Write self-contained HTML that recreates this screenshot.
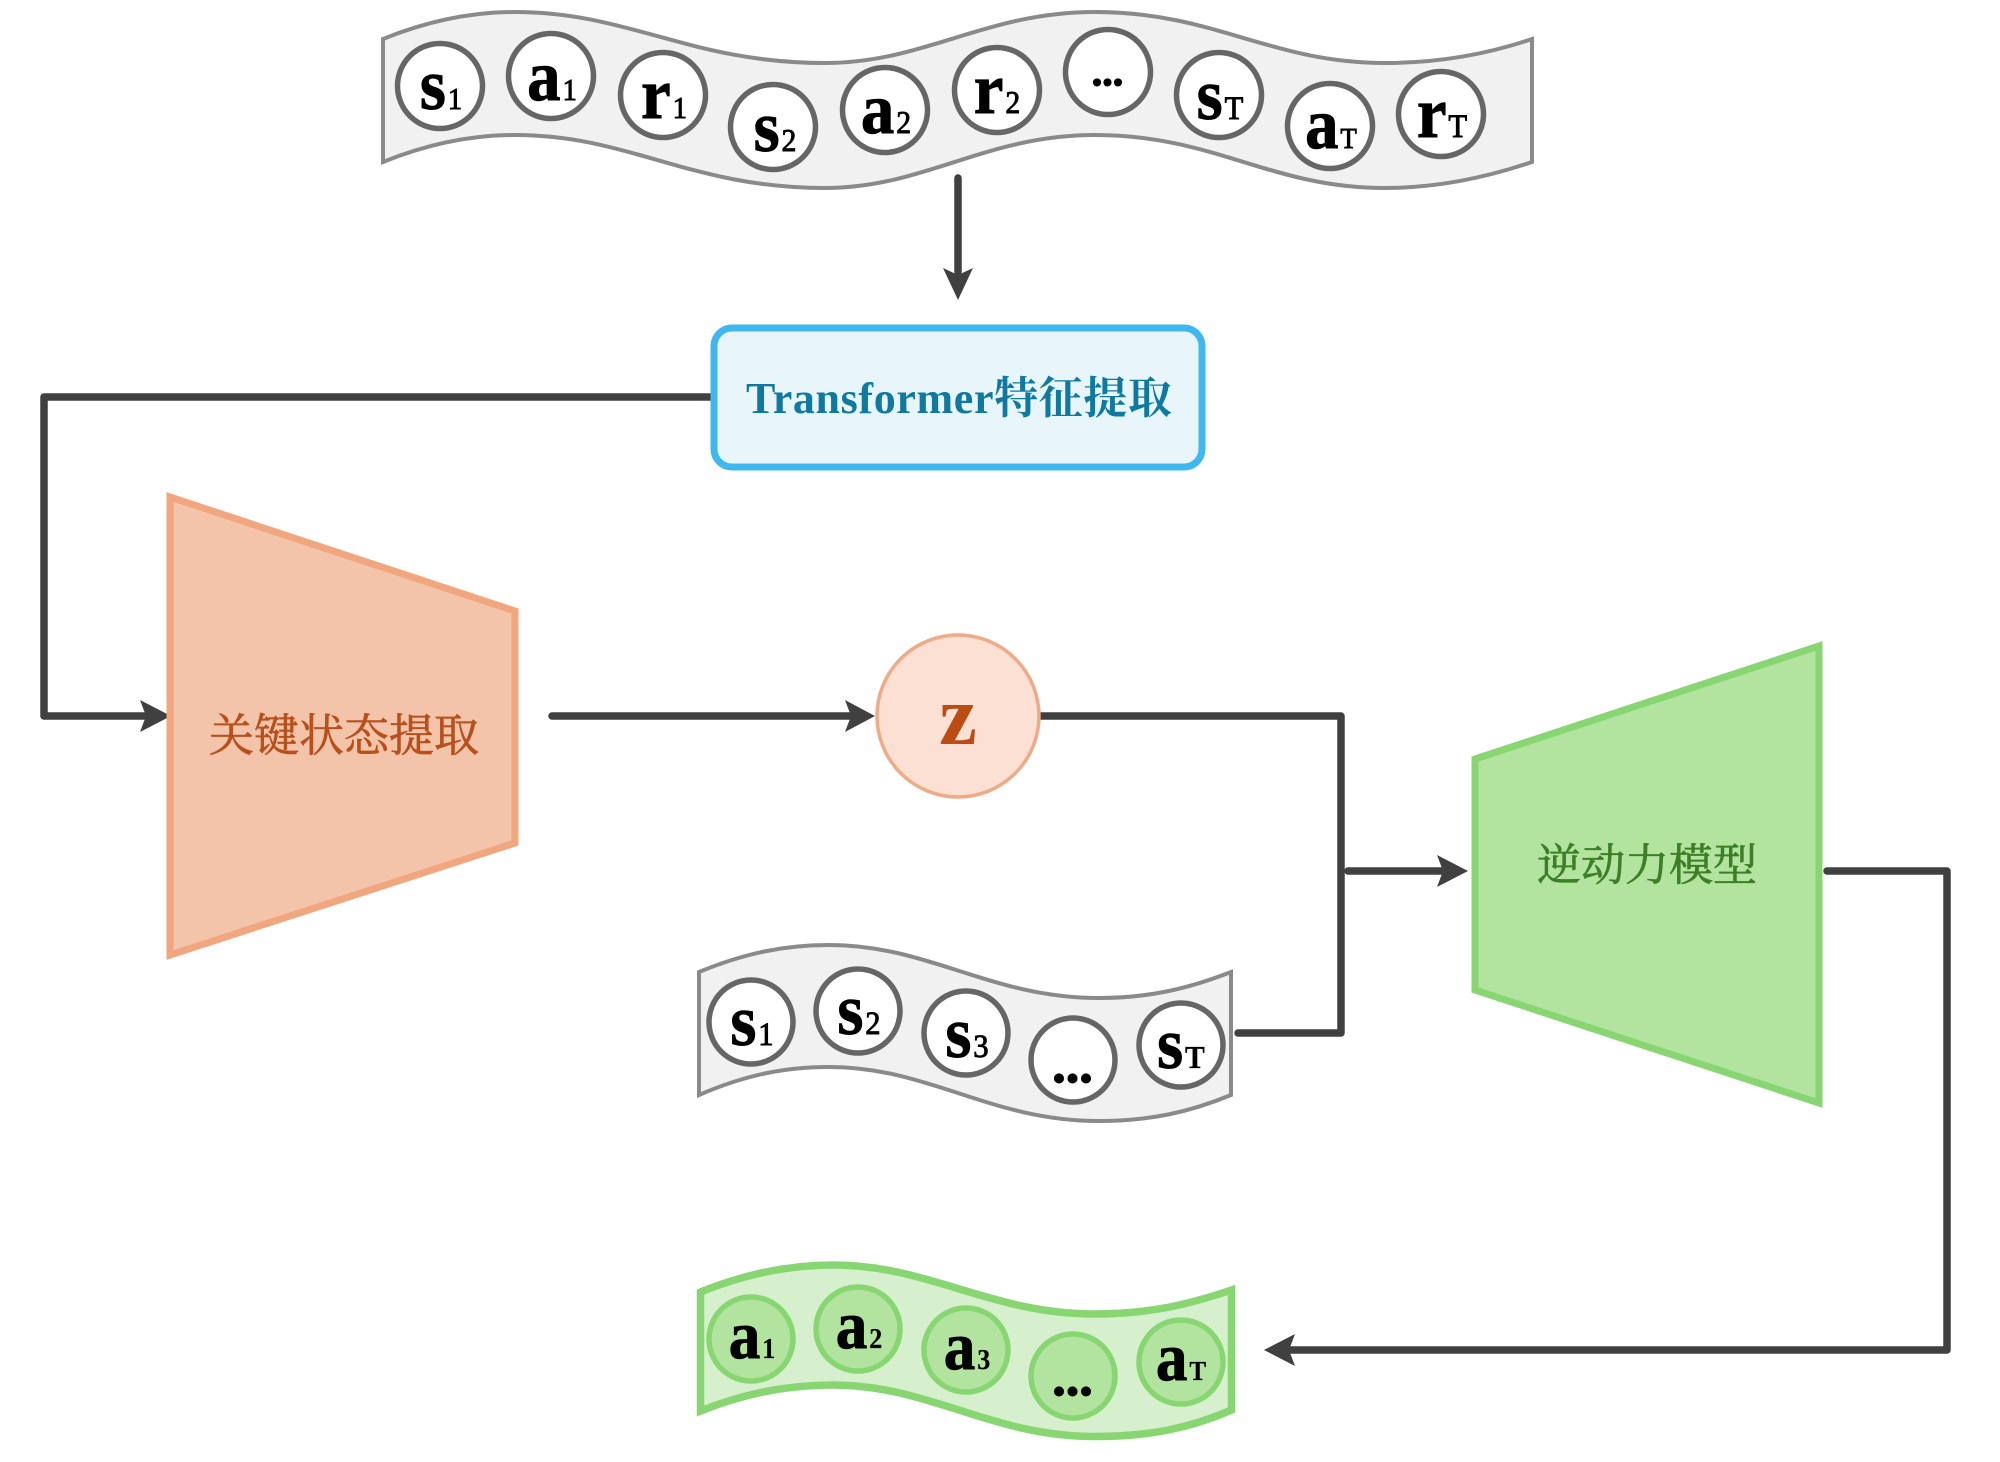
<!DOCTYPE html>
<html lang="zh">
<head>
<meta charset="utf-8">
<title>Diagram</title>
<style>
html,body{margin:0;padding:0;background:#fff}
svg{display:block}
.l{font-family:"Liberation Serif","Noto Serif CJK SC",serif;font-weight:700;fill:#000;text-anchor:middle;stroke:#000;stroke-width:.9}
.sub{font-weight:400;stroke-width:.9}
.ssub{font-weight:700;stroke-width:.2}
.d{stroke-width:2;letter-spacing:1px}
</style>
</head>
<body>
<svg width="2000" height="1462" viewBox="0 0 2000 1462" xmlns="http://www.w3.org/2000/svg">
<rect width="2000" height="1462" fill="#fff"/>

<!-- top tape -->
<path d="M383 39 C430 20 475 12 515 12 C630 12 690 63 825 63 C925 63 985 12 1095 12 C1215 12 1270 63 1385 63 C1435 63 1485 55 1532 39 L1532 162 C1485 178 1435 188 1385 188 C1270 188 1215 135 1095 135 C985 135 925 188 825 188 C690 188 630 135 515 135 C475 135 430 143 383 162 Z" fill="#f1f1f1" stroke="#8a8a8a" stroke-width="4"/>
<g fill="#fff" stroke="#666" stroke-width="5.5">
<circle cx="440" cy="86" r="42.5"/><circle cx="551" cy="76" r="42.5"/><circle cx="663" cy="95" r="42.5"/>
<circle cx="773" cy="127" r="42.5"/><circle cx="885" cy="110" r="42.5"/><circle cx="997" cy="90" r="42.5"/>
<circle cx="1108" cy="72" r="42.5"/><circle cx="1219" cy="95" r="42.5"/><circle cx="1330" cy="126" r="42.5"/>
<circle cx="1441" cy="114" r="42.5"/>
</g>
<g class="l" font-size="72">
<text transform="translate(441,109) scale(.93,1)">s<tspan dx="2" class="sub" font-size="31">1</tspan></text>
<text transform="translate(552,100) scale(.93,1)">a<tspan dx="2" class="sub" font-size="31">1</tspan></text>
<text transform="translate(664,118) scale(.93,1)">r<tspan dx="2" class="sub" font-size="31">1</tspan></text>
<text transform="translate(775,151) scale(.93,1)">s<tspan dx="2" class="sub" font-size="32">2</tspan></text>
<text transform="translate(886,133) scale(.93,1)">a<tspan dx="2" class="sub" font-size="32">2</tspan></text>
<text transform="translate(997,113) scale(.93,1)">r<tspan dx="2" class="sub" font-size="32">2</tspan></text>
<text class="d" x="1108" y="85" font-size="38">...</text>
<text transform="translate(1220,119) scale(.93,1)">s<tspan dx="2" class="sub" font-size="33">T</tspan></text>
<text transform="translate(1331,148) scale(.93,1)">a<tspan dx="2" class="sub" font-size="29">T</tspan></text>
<text transform="translate(1442,137) scale(.93,1)">r<tspan dx="2" class="sub" font-size="33">T</tspan></text>
</g>

<!-- second tape -->
<path d="M699 972 C745 953 785 945 829 945 C930 945 990 998 1099 998 C1150 998 1190 988 1231 972 L1231 1095 C1190 1112 1150 1121 1099 1121 C990 1121 930 1067 829 1067 C785 1067 745 1075 699 1095 Z" fill="#f1f1f1" stroke="#8a8a8a" stroke-width="4"/>
<g fill="#fff" stroke="#666" stroke-width="5.5">
<circle cx="751" cy="1022" r="42"/><circle cx="858" cy="1011" r="42"/><circle cx="966" cy="1033" r="42"/>
<circle cx="1073" cy="1060" r="42"/><circle cx="1181" cy="1045" r="42"/>
</g>
<g class="l" font-size="72">
<text transform="translate(752,1045) scale(.93,1)">s<tspan dx="2" class="sub" font-size="33">1</tspan></text>
<text transform="translate(859,1034) scale(.93,1)">s<tspan dx="2" class="sub" font-size="33">2</tspan></text>
<text transform="translate(967,1057) scale(.93,1)">s<tspan dx="2" class="sub" font-size="33">3</tspan></text>
<text class="d" x="1073" y="1082" font-size="50">...</text>
<text transform="translate(1181,1068) scale(.93,1)">s<tspan dx="2" class="ssub" font-size="32">T</tspan></text>
</g>

<!-- green tape -->
<path d="M700.5 1292 C745 1274 790 1265 833 1265 C930 1265 990 1314 1095 1314 C1150 1314 1190 1304 1231.5 1290 L1231.5 1410 C1190 1428 1150 1436.5 1095 1436.5 C990 1436.5 930 1385 833 1385 C790 1385 745 1393 700.5 1411 Z" fill="#d6f0cd" stroke="#88d672" stroke-width="7.5"/>
<g fill="#b2e4a0" stroke="#88d672" stroke-width="5.5">
<circle cx="751" cy="1339" r="42"/><circle cx="858" cy="1329" r="42"/><circle cx="966" cy="1350" r="42"/>
<circle cx="1073" cy="1376" r="42"/><circle cx="1181" cy="1362" r="42"/>
</g>
<g class="l" font-size="68">
<text transform="translate(752,1358) scale(.93,1)">a<tspan dx="2" class="ssub" font-size="28">1</tspan></text>
<text transform="translate(859,1348) scale(.93,1)">a<tspan dx="2" class="ssub" font-size="28">2</tspan></text>
<text transform="translate(967,1369) scale(.93,1)">a<tspan dx="2" class="ssub" font-size="28">3</tspan></text>
<text class="d" x="1073" y="1395" font-size="50">...</text>
<text transform="translate(1181,1380) scale(.93,1)">a<tspan dx="2" class="ssub" font-size="27">T</tspan></text>
</g>

<!-- connectors -->
<g fill="none" stroke="#404040" stroke-width="7.5" stroke-linecap="round" stroke-linejoin="round">
<path d="M958 178 L958 272"/>
<path d="M714 397 L44 397 L44 716 L145 716"/>
<path d="M552 716 L850 716"/>
<path d="M1041 716 L1341 716 L1341 1033 L1238 1033"/>
<path d="M1348 871 L1442 871"/>
<path d="M1827 871 L1947 871 L1947 1350 L1290 1350"/>
</g>
<g fill="#404040">
<polygon points="958,300 943,268 958,275 973,268"/>
<polygon points="171,716 140,700 146,716 140,732"/>
<polygon points="875,716 845,700 851,716 845,732"/>
<polygon points="1468,871 1437,855 1443,871 1437,887"/>
<polygon points="1264,1350 1295,1334 1289,1350 1295,1366"/>
</g>

<!-- transformer box -->
<rect x="714" y="328" width="488" height="139" rx="18" ry="18" fill="#e8f6fc" stroke="#3fb8ef" stroke-width="7"/>
<text x="746" y="413" textLength="426" font-family="'Liberation Serif','Noto Serif CJK SC',serif" font-weight="700" font-size="44" fill="#10799f">Transformer特征提取</text>

<!-- orange trapezoid -->
<polygon points="170,497 515,611 515,843 170,955" fill="#f4c4aa" stroke="#f0a67f" stroke-width="7"/>
<text x="344" y="751" font-family="'Liberation Serif','Noto Serif CJK SC',serif" font-size="45" fill="#b8501c" stroke="#b8501c" stroke-width=".7" text-anchor="middle">关键状态提取</text>

<!-- z -->
<circle cx="958" cy="716" r="81" fill="#fbe0d3" stroke="#eeab87" stroke-width="3.5"/>
<text x="958" y="744" font-family="'Liberation Serif',serif" font-weight="700" font-size="85" fill="#bb4d14" text-anchor="middle">z</text>

<!-- green trapezoid -->
<polygon points="1475,759 1819,646 1819,1103 1475,990" fill="#b2e4a0" stroke="#88d672" stroke-width="7"/>
<text x="1647" y="880" font-family="'Liberation Serif','Noto Serif CJK SC',serif" font-size="44" fill="#3d7e26" stroke="#3d7e26" stroke-width=".7" text-anchor="middle">逆动力模型</text>
</svg>
</body>
</html>
